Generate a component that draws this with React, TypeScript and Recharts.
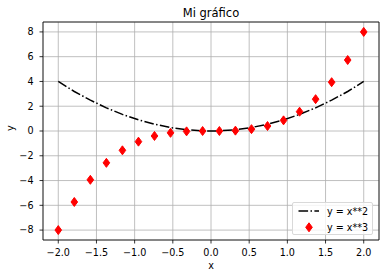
import {
  CartesianGrid,
  ComposedChart,
  Label,
  Line,
  ReferenceArea,
  Scatter,
  XAxis,
  YAxis,
} from "recharts"

// sample points along x
const xs = [-2, -1.79, -1.58, -1.37, -1.16, -0.95, -0.74, -0.53, -0.32, -0.11, 0.11, 0.32, 0.53, 0.74, 0.95, 1.16, 1.37, 1.58, 1.79, 2]
// y = x**2 (dash-dot line)
const squares = [4, 3.19, 2.49, 1.87, 1.34, 0.9, 0.55, 0.28, 0.1, 0.01, 0.01, 0.1, 0.28, 0.55, 0.9, 1.34, 1.87, 2.49, 3.19, 4]
// y = x**3 (red diamonds)
const cubes = [-8, -5.73, -3.94, -2.57, -1.56, -0.86, -0.4, -0.15, -0.03, 0, 0, 0.03, 0.15, 0.4, 0.86, 1.56, 2.57, 3.94, 5.73, 8]

const xTicks = [-2, -1.5, -1, -0.5, 0, 0.5, 1, 1.5, 2]
const yTicks = [-8, -6, -4, -2, 0, 2, 4, 6, 8]

const data = xs.map((x, i) => ({ x, sq: squares[i], cube: cubes[i] }))

const FONT = "'DejaVu Sans', sans-serif"
const FS = 9.6
const minus = (s: string) => s.replace("-", "\u2212")

const Diamond = (props: any) => {
  const { cx, cy } = props
  if (cx == null || cy == null) return null
  return (
    <path
      d={`M${cx},${cy - 4.5} L${cx + 3.3},${cy} L${cx},${cy + 4.5} L${cx - 3.3},${cy} Z`}
      fill="#ff0000"
      stroke="#ff0000"
      strokeWidth={1}
    />
  )
}

const tickStyle = { fontSize: FS, fill: "#000", fontFamily: FONT }
const labelStyle = { fontSize: FS, fill: "#000", fontFamily: FONT }

export default function App() {
  return (
    <div style={{ position: "absolute", left: 0, top: 0, width: 384, height: 278, background: "#fff", fontFamily: FONT }}>
      <ComposedChart width={384} height={278} data={data} margin={{ top: 22, right: 5, bottom: 0, left: 0 }}>
        <CartesianGrid stroke="#b0b0b0" strokeWidth={0.8} />
        <XAxis
          dataKey="x"
          type="number"
          domain={[-2.2, 2.2]}
          ticks={xTicks}
          allowDataOverflow
          height={38}
          tickSize={3.5}
          tickMargin={5.7}
          tickLine={{ stroke: "#000", strokeWidth: 0.8 }}
          axisLine={false}
          tick={tickStyle}
          tickFormatter={(v: number) => minus(v.toFixed(1))}
        >
          <Label value="x" position="insideBottom" offset={8.7} style={labelStyle} />
        </XAxis>
        <YAxis
          type="number"
          domain={[-8.8, 8.8]}
          ticks={yTicks}
          allowDataOverflow
          width={43}
          tickSize={3.5}
          tickMargin={6}
          tickLine={{ stroke: "#000", strokeWidth: 0.8 }}
          axisLine={false}
          tick={tickStyle}
          tickFormatter={(v: number) => minus(String(v))}
        >
          <Label value="y" angle={-90} position="insideLeft" offset={11} style={labelStyle} />
        </YAxis>
        <Line
          dataKey="sq"
          stroke="#000"
          strokeWidth={1.5}
          strokeDasharray="9.6 2.4 1.5 2.4"
          dot={false}
          isAnimationActive={false}
        />
        <Scatter dataKey="cube" shape={Diamond} isAnimationActive={false} />
        <ReferenceArea x1={-2.2} x2={2.2} y1={-8.8} y2={8.8} fill="none" stroke="#000" strokeWidth={0.8} ifOverflow="visible" />
      </ComposedChart>
      <svg style={{ position: "absolute", left: 0, top: 0 }} width={384} height={22}>
        <text x={211} y={17} textAnchor="middle" fontSize={11.5} fontFamily={FONT} fill="#000">
          Mi gráfico
        </text>
      </svg>
      <div
        style={{
          position: "absolute",
          left: 292,
          top: 202,
          width: 81,
          height: 33,
          boxSizing: "border-box",
          border: "1px solid #d9d9d9",
          borderRadius: 2,
          background: "rgba(255,255,255,0.8)",
        }}
      >
        <svg style={{ position: "absolute", left: 0, top: 0 }} width={81} height={33}>
          <line x1={5.5} y1={8} x2={26} y2={8} stroke="#000" strokeWidth={1.5} strokeDasharray="9.6 2.4 1.5 2.4" />
          <path d="M16,19.8 L19.3,24.3 L16,28.8 L12.7,24.3 Z" fill="#ff0000" stroke="#ff0000" />
          <text x={34} y={11.5} fontSize={FS} fontFamily={FONT} fill="#000">y = x**2</text>
          <text x={34} y={27.8} fontSize={FS} fontFamily={FONT} fill="#000">y = x**3</text>
        </svg>
      </div>
    </div>
  )
}
